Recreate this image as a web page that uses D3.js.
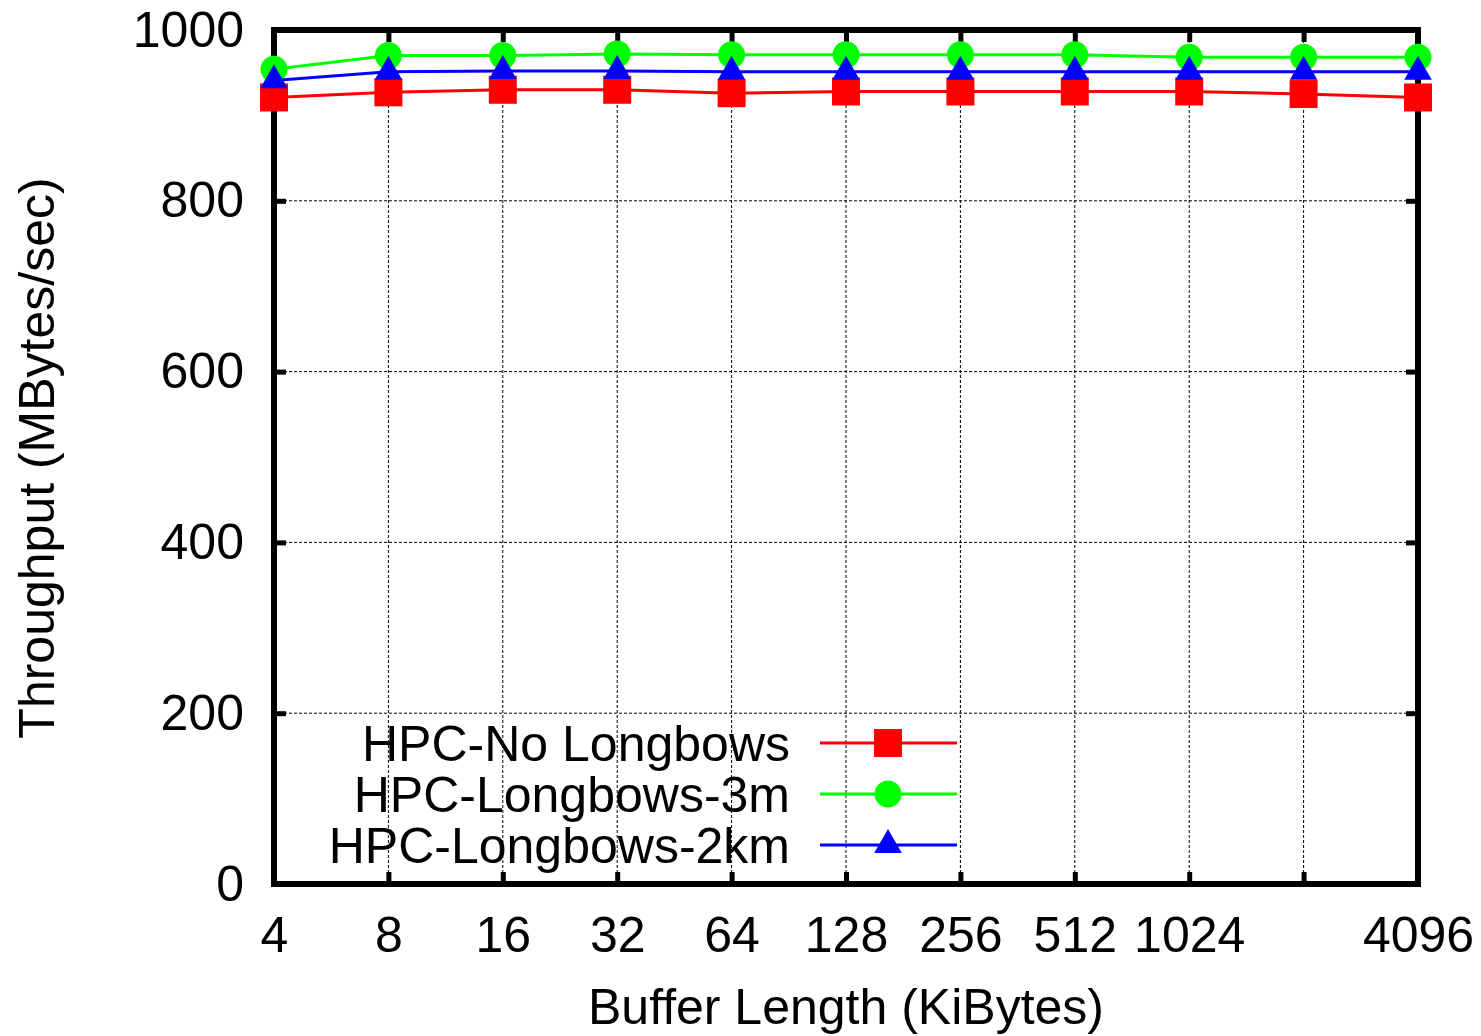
<!DOCTYPE html>
<html>
<head>
<meta charset="utf-8">
<script src="https://cdn.jsdelivr.net/npm/d3@7"></script>
<style>
  body { margin: 0; background: #fff; }
  text { font-family: "Liberation Sans", Arial, sans-serif; fill: #000; }
</style>
</head>
<body>
<div class="chart"></div>
<script>
// buffer sizes in KiBytes
const bufferSizes = [4, 8, 16, 32, 64, 128, 256, 512, 1024, 2048, 4096];
const xTickLabels = ["4", "8", "16", "32", "64", "128", "256", "512", "1024", "", "4096"];
const yTicks = [0, 200, 400, 600, 800, 1000];

const seriesNames = ["HPC-No Longbows", "HPC-Longbows-3m", "HPC-Longbows-2km"];
const noLongbows = [921, 927, 930, 930, 926, 928, 928, 928, 928, 925, 921];
const longbows3m = [954, 970, 970, 972, 971, 971, 971, 971, 968, 968, 968];
const longbows2km = [941, 951, 952, 952, 951, 951, 951, 951, 951, 951, 951];

const width = 1481;
const height = 1036;
const plotL = 274, plotR = 1418, plotT = 30, plotB = 884;
const fontSize = 50;

const svg = d3.select('.chart')
    .append('svg')
    .attr('width', width)
    .attr('height', height);

const x = d3.scaleLog().base(2).domain([4, 4096]).range([plotL, plotR]);
const y = d3.scaleLinear().domain([0, 1000]).range([plotB, plotT]);

// grid
svg.selectAll('line.vgrid')
    .data(bufferSizes.slice(1, -1))
    .enter()
    .append('line')
    .attr('class', 'vgrid')
    .attr('x1', d => x(d)).attr('x2', d => x(d))
    .attr('y1', plotT).attr('y2', plotB)
    .attr('stroke', '#000')
    .attr('stroke-width', 1)
    .attr('stroke-dasharray', '3,2');

svg.selectAll('line.hgrid')
    .data(yTicks.slice(1, -1))
    .enter()
    .append('line')
    .attr('class', 'hgrid')
    .attr('x1', plotL).attr('x2', plotR)
    .attr('y1', d => y(d)).attr('y2', d => y(d))
    .attr('stroke', '#000')
    .attr('stroke-width', 1)
    .attr('stroke-dasharray', '3,2');

// axes with inward ticks
const tickLen = 12;
svg.append('g')
    .attr('transform', `translate(0,${plotB})`)
    .call(d3.axisBottom(x).tickValues(bufferSizes)
        .tickFormat((d, i) => xTickLabels[i]).tickSize(-tickLen).tickPadding(32))
    .call(g => g.select('.domain').remove())
    .call(g => g.selectAll('line').attr('stroke-width', 5))
    .call(g => g.selectAll('text').attr('font-size', fontSize).attr('font-family', '"Liberation Sans", Arial, sans-serif'));

svg.append('g')
    .attr('transform', `translate(0,${plotT})`)
    .call(d3.axisTop(x).tickValues(bufferSizes).tickSize(-tickLen).tickFormat(''))
    .call(g => g.select('.domain').remove())
    .call(g => g.selectAll('line').attr('stroke-width', 5));

svg.append('g')
    .attr('transform', `translate(${plotL},0)`)
    .call(d3.axisLeft(y).tickValues(yTicks).tickFormat(d3.format('d')).tickSize(-tickLen).tickPadding(30))
    .call(g => g.select('.domain').remove())
    .call(g => g.selectAll('line').attr('stroke-width', 5))
    .call(g => g.selectAll('text').attr('font-size', fontSize).attr('font-family', '"Liberation Sans", Arial, sans-serif'));

svg.append('g')
    .attr('transform', `translate(${plotR},0)`)
    .call(d3.axisRight(y).tickValues(yTicks).tickSize(-tickLen).tickFormat(''))
    .call(g => g.select('.domain').remove())
    .call(g => g.selectAll('line').attr('stroke-width', 5));

// frame
svg.append('rect')
    .attr('x', plotL).attr('y', plotT)
    .attr('width', plotR - plotL).attr('height', plotB - plotT)
    .attr('fill', 'none')
    .attr('stroke', '#000')
    .attr('stroke-width', 6);

// axis titles
svg.append('text')
    .attr('x', 846).attr('y', 1024)
    .attr('text-anchor', 'middle')
    .attr('font-size', fontSize)
    .text('Buffer Length (KiBytes)');

svg.append('text')
    .attr('transform', 'translate(54,458) rotate(-90)')
    .attr('text-anchor', 'middle')
    .attr('font-size', fontSize)
    .text('Throughput (MBytes/sec)');

// series
const series = [
    { name: seriesNames[0], values: noLongbows, color: '#ff0000', symbol: d3.symbolSquare, size: 28 * 28 },
    { name: seriesNames[1], values: longbows3m, color: '#00ff00', symbol: d3.symbolCircle, size: Math.PI * 13.5 * 13.5 },
    { name: seriesNames[2], values: longbows2km, color: '#0000ff', symbol: d3.symbolTriangle, size: 330 }
];

const line = d3.line()
    .x((d, i) => x(bufferSizes[i]))
    .y(d => y(d));

series.forEach(s => {
    svg.append('path')
        .datum(s.values)
        .attr('d', line)
        .attr('fill', 'none')
        .attr('stroke', s.color)
        .attr('stroke-width', 3);
    svg.selectAll(null)
        .data(s.values)
        .enter()
        .append('path')
        .attr('transform', (d, i) => `translate(${x(bufferSizes[i])},${y(d)})`)
        .attr('d', d3.symbol().type(s.symbol).size(s.size))
        .attr('fill', s.color);
});

// legend
const legend = svg.append('g');
series.forEach((s, i) => {
    const ly = 743 + i * 51;
    legend.append('text')
        .attr('x', 790).attr('y', ly)
        .attr('dy', '0.36em')
        .attr('text-anchor', 'end')
        .attr('font-size', fontSize)
        .text(s.name);
    legend.append('line')
        .attr('x1', 820).attr('x2', 957)
        .attr('y1', ly).attr('y2', ly)
        .attr('stroke', s.color)
        .attr('stroke-width', 3);
    legend.append('path')
        .attr('transform', `translate(888,${ly})`)
        .attr('d', d3.symbol().type(s.symbol).size(s.size))
        .attr('fill', s.color);
});
</script>
</body>
</html>
